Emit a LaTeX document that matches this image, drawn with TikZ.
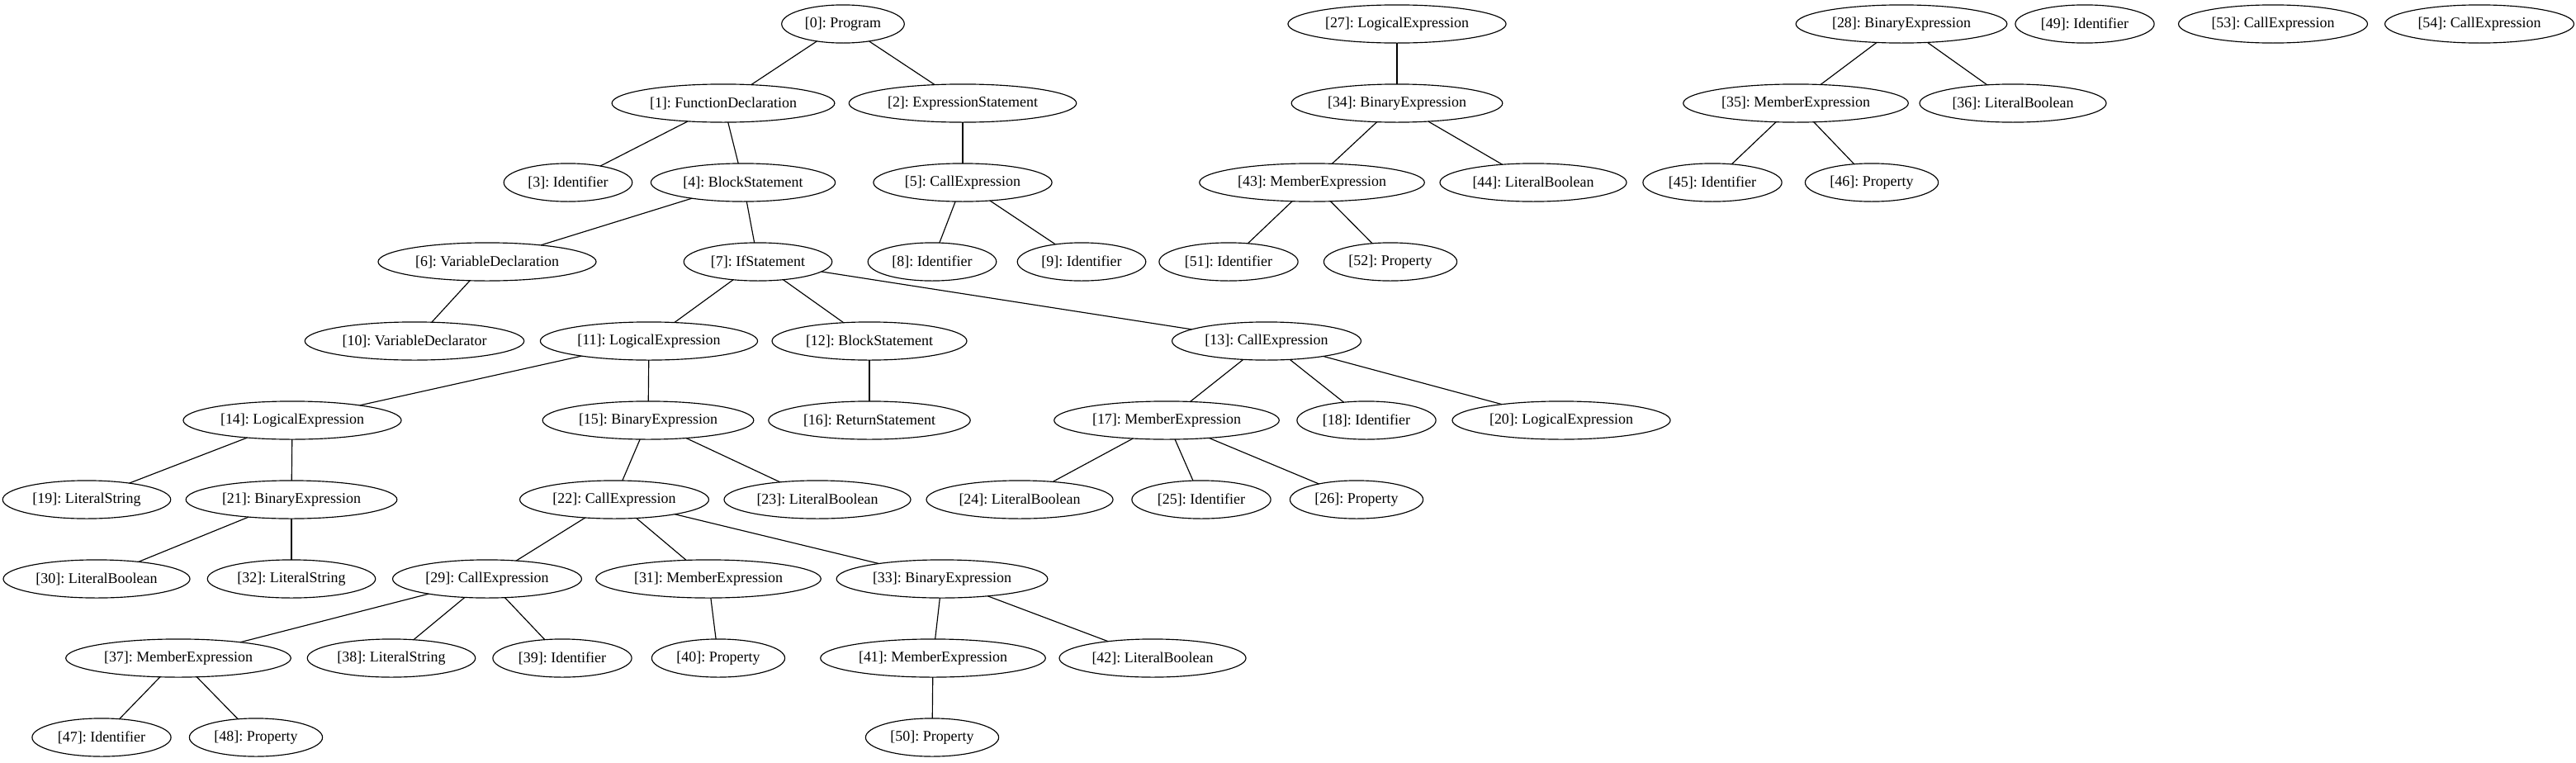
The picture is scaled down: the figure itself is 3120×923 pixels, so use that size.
\documentclass[tikz,border=0pt]{standalone}
\usepackage{fontspec}
\setmainfont{Liberation Serif}
\usetikzlibrary{shapes.geometric}
\frenchspacing
\begin{document}
\begin{tikzpicture}[x=0.78pt,y=-0.78pt,
  ast/.style={draw,ellipse,line width=0.9pt,inner xsep=5pt,inner ysep=1pt,
    minimum height=36pt,outer sep=0pt,font=\fontsize{14pt}{16pt}\selectfont},
  edge/.style={line width=0.9pt}]
 \useasboundingbox (0,0) rectangle (3120,923);
 % row 0
 \node[ast] (n0) at (1021,29) {[0]: Program};
 \node[ast] (n27) at (1692,29) {[27]: LogicalExpression};
 \node[ast] (n28) at (2303,29) {[28]: BinaryExpression};
 \node[ast] (n49) at (2525,29) {[49]: Identifier};
 \node[ast] (n53) at (2753,29) {[53]: CallExpression};
 \node[ast] (n54) at (3003,29) {[54]: CallExpression};
 % row 1
 \node[ast] (n1) at (876,125) {[1]: FunctionDeclaration};
 \node[ast] (n2) at (1166,125) {[2]: ExpressionStatement};
 \node[ast] (n34) at (1692,125) {[34]: BinaryExpression};
 \node[ast] (n35) at (2175,125) {[35]: MemberExpression};
 \node[ast] (n36) at (2438,125) {[36]: LiteralBoolean};
 % row 2
 \node[ast] (n3) at (688,221) {[3]: Identifier};
 \node[ast] (n4) at (900,221) {[4]: BlockStatement};
 \node[ast] (n5) at (1166,221) {[5]: CallExpression};
 \node[ast] (n43) at (1589,221) {[43]: MemberExpression};
 \node[ast] (n44) at (1857,221) {[44]: LiteralBoolean};
 \node[ast] (n45) at (2074,221) {[45]: Identifier};
 \node[ast] (n46) at (2267,221) {[46]: Property};
 % row 3
 \node[ast] (n6) at (590,317) {[6]: VariableDeclaration};
 \node[ast] (n7) at (918,317) {[7]: IfStatement};
 \node[ast] (n8) at (1129,317) {[8]: Identifier};
 \node[ast] (n9) at (1310,317) {[9]: Identifier};
 \node[ast] (n51) at (1488,317) {[51]: Identifier};
 \node[ast] (n52) at (1684,317) {[52]: Property};
 % row 4
 \node[ast] (n10) at (502,413) {[10]: VariableDeclarator};
 \node[ast] (n11) at (786,413) {[11]: LogicalExpression};
 \node[ast] (n12) at (1053,413) {[12]: BlockStatement};
 \node[ast] (n13) at (1534,413) {[13]: CallExpression};
 % row 5
 \node[ast] (n14) at (354,509) {[14]: LogicalExpression};
 \node[ast] (n15) at (785,509) {[15]: BinaryExpression};
 \node[ast] (n16) at (1053,509) {[16]: ReturnStatement};
 \node[ast] (n17) at (1413,509) {[17]: MemberExpression};
 \node[ast] (n18) at (1655,509) {[18]: Identifier};
 \node[ast] (n20) at (1891,509) {[20]: LogicalExpression};
 % row 6
 \node[ast] (n19) at (105,605) {[19]: LiteralString};
 \node[ast] (n21) at (353,605) {[21]: BinaryExpression};
 \node[ast] (n22) at (744,605) {[22]: CallExpression};
 \node[ast] (n23) at (990,605) {[23]: LiteralBoolean};
 \node[ast] (n24) at (1235,605) {[24]: LiteralBoolean};
 \node[ast] (n25) at (1455,605) {[25]: Identifier};
 \node[ast] (n26) at (1643,605) {[26]: Property};
 % row 7
 \node[ast] (n30) at (117,701) {[30]: LiteralBoolean};
 \node[ast] (n32) at (353,701) {[32]: LiteralString};
 \node[ast] (n29) at (590,701) {[29]: CallExpression};
 \node[ast] (n31) at (858,701) {[31]: MemberExpression};
 \node[ast] (n33) at (1141,701) {[33]: BinaryExpression};
 % row 8
 \node[ast] (n37) at (216,797) {[37]: MemberExpression};
 \node[ast] (n38) at (474,797) {[38]: LiteralString};
 \node[ast] (n39) at (681,797) {[39]: Identifier};
 \node[ast] (n40) at (870,797) {[40]: Property};
 \node[ast] (n41) at (1130,797) {[41]: MemberExpression};
 \node[ast] (n42) at (1396,797) {[42]: LiteralBoolean};
 % row 9
 \node[ast] (n47) at (123,893) {[47]: Identifier};
 \node[ast] (n48) at (310,893) {[48]: Property};
 \node[ast] (n50) at (1129,893) {[50]: Property};
 % edges
 \foreach \a/\b in {0/1,0/2,1/3,1/4,2/5,4/6,4/7,5/8,5/9,6/10,7/11,7/12,7/13,
   11/14,11/15,12/16,13/17,13/18,13/20,14/19,14/21,15/22,15/23,17/24,17/25,17/26,
   21/30,21/32,22/29,22/31,22/33,29/37,29/38,29/39,31/40,33/41,33/42,37/47,37/48,
   41/50,27/34,34/43,34/44,43/51,43/52,28/35,28/36,35/45,35/46}
   \draw[edge] (n\a) -- (n\b);
\end{tikzpicture}
\end{document}
